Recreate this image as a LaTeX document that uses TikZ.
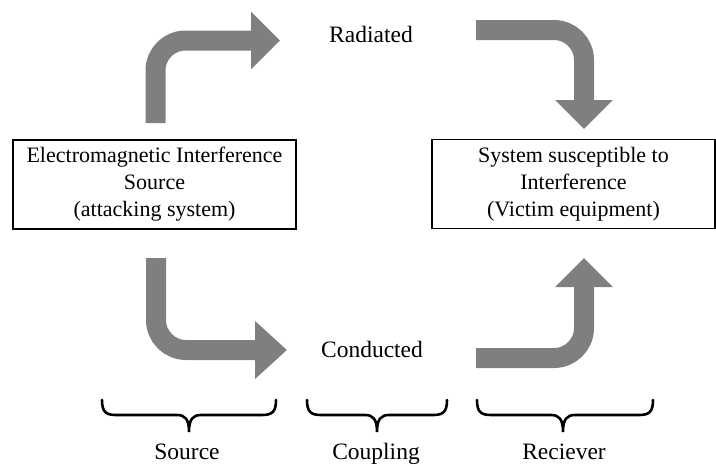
\documentclass[tikz,border=0pt]{standalone}
\usepackage{fontspec}
\setmainfont{Liberation Serif}
\usetikzlibrary{arrows.meta}
\definecolor{arrowgray}{RGB}{127,127,127}
\newcommand\mybrace[3]{%
\draw[bracestyle] (#1,400) .. controls (#1,412) and (#1+4,415) .. (#1+14,415) -- (#2-12,415) .. controls (#2-4,415) and (#2,419) .. (#2,432) .. controls (#2,419) and (#2+4,415) .. (#2+12,415) -- (#3-14,415) .. controls (#3-4,415) and (#3,412) .. (#3,400);}
\begin{document}
\begin{tikzpicture}[x=1pt,y=-1pt,
 box/.style={draw, line width=1.6pt, minimum width=283pt, minimum height=89pt, align=center, inner sep=0pt, font=\fontsize{22}{27}\selectfont},
 lbl/.style={font=\fontsize{23.5}{27}\selectfont, inner sep=0pt, anchor=base},
 bigarrow/.style={draw=arrowgray, line width=20pt, rounded corners=30pt, -{Triangle[length=29pt,width=56pt,fill=arrowgray]}},
 bracestyle/.style={draw, line width=2.6pt, line cap=round}]
\useasboundingbox (0,0) rectangle (716,466);

\node[box] (src) at (154.5,184.5) {Electromagnetic Interference\\Source\\(attacking system)};
\node[box] (vic) at (573.5,184) {System susceptible to\\Interference\\(Victim equipment)};

\node[lbl] (rad) at (371,42) {Radiated};
\node[lbl] (con) at (372,357) {Conducted};

\coordinate (a1s) at (155.5,123); \coordinate (a1c) at (155.5,40.5); \coordinate (a1e) at (280,40.5);
\draw[bigarrow] (a1s) -- (a1c) -- (a1e);

\coordinate (a2s) at (476,30); \coordinate (a2c) at (584,30); \coordinate (a2e) at (584,129);
\draw[bigarrow] (a2s) -- (a2c) -- (a2e);

\coordinate (a3s) at (156,258); \coordinate (a3c) at (156,350); \coordinate (a3e) at (287,350);
\draw[bigarrow, -{Triangle[length=32pt,width=56pt,fill=arrowgray]}] (a3s) -- (a3c) -- (a3e);

\coordinate (a4s) at (476,358); \coordinate (a4c) at (584,358); \coordinate (a4e) at (584,258);
\draw[bigarrow] (a4s) -- (a4c) -- (a4e);

\mybrace{102}{189}{276}
\mybrace{307}{377}{447}
\mybrace{477}{563}{653}

\node[lbl] (lsrc) at (187,459) {Source};
\node[lbl] (lcou) at (376,459) {Coupling};
\node[lbl] (lrec) at (564,459) {Reciever};
\end{tikzpicture}
\end{document}
